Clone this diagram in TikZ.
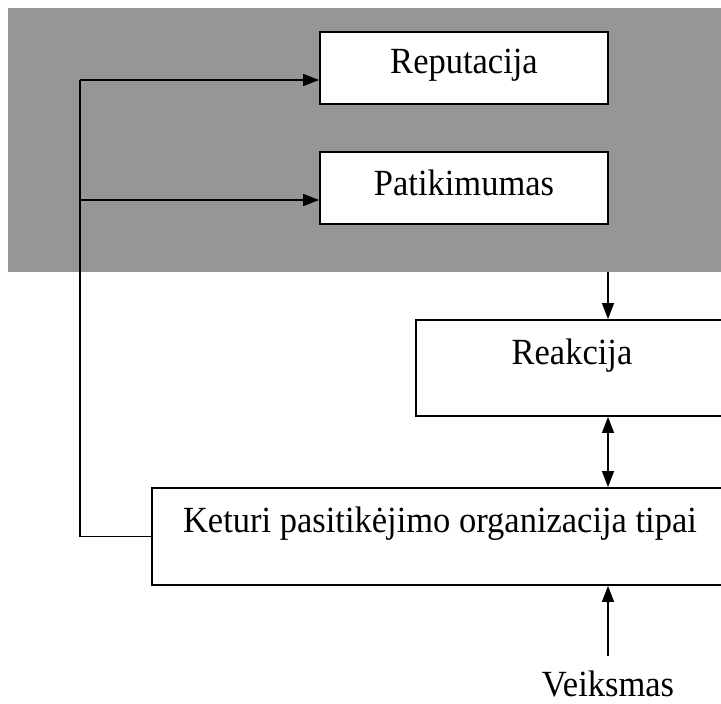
\documentclass[tikz,border=0pt]{standalone}
\usepackage{fontspec}
\usepackage{graphicx}
\setmainfont{Liberation Serif}
\usetikzlibrary{arrows.meta}
\definecolor{panelgray}{RGB}{150,150,150}
% slightly tall lettering
\newcommand\tallword[1]{\scalebox{1}[1.07]{#1}}
\tikzset{
  box/.style={draw=black, line width=1.8pt, fill=white, inner sep=0pt},
  lbl/.style={anchor=base, inner sep=0pt, font=\fontsize{34.5}{40}\selectfont},
  link/.style={line width=1.3pt},
  arr/.style={link, -{Triangle[length=16pt,width=12pt]}},
  darr/.style={link, {Triangle[length=16pt,width=12pt]}-{Triangle[length=16pt,width=12pt]}},
}
\begin{document}
\begin{tikzpicture}[x=1pt,y=-1pt]
\useasboundingbox (0,0) rectangle (721,704);
\clip (0,0) rectangle (721,704);

% grey panel behind the two upper boxes
\node[fill=panelgray, inner sep=0pt, minimum width=740pt, minimum height=264pt,
      anchor=north west] (panel) at (8,8) {};

% boxes
\node[box, minimum width=288pt, minimum height=72pt] (rep) at (464,68) {};
\node[lbl] (repT) at (464,73) {\tallword{Reputacija}};

\node[box, minimum width=288pt, minimum height=72pt] (pat) at (464,188) {};
\node[lbl] (patT) at (464,195) {\tallword{Patikimumas}};

\node[box, minimum width=312pt, minimum height=96pt] (reak) at (572,368) {};
\node[lbl] (reakT) at (572,364) {\tallword{Reakcija}};

\node[box, minimum width=576pt, minimum height=97pt] (ket) at (440,536.5) {};
\node[lbl] (ketT) at (440,532) {\tallword{Keturi pasitikėjimo organizacija tipai}};

\node[lbl] (veik) at (608,696) {\tallword{Veiksmas}};

% routing points
\coordinate (j1) at (80,80);
\coordinate (j2) at (80,200);
\coordinate (ax) at (608,0);

% feedback loop on the left
\draw[link] (ket.west) -| (j1);
\draw[arr] (j1) -- (j1 -| rep.west);
\draw[arr] (j2) -- (j2 -| pat.west);

% vertical chain on the right
\draw[arr] (panel.south -| ax) -- (reak.north -| ax);
\draw[darr] (reak.south -| ax) -- (ket.north -| ax);
\draw[arr, shorten <=14pt] (veik.north) -- (ket.south -| veik);
\end{tikzpicture}
\end{document}
